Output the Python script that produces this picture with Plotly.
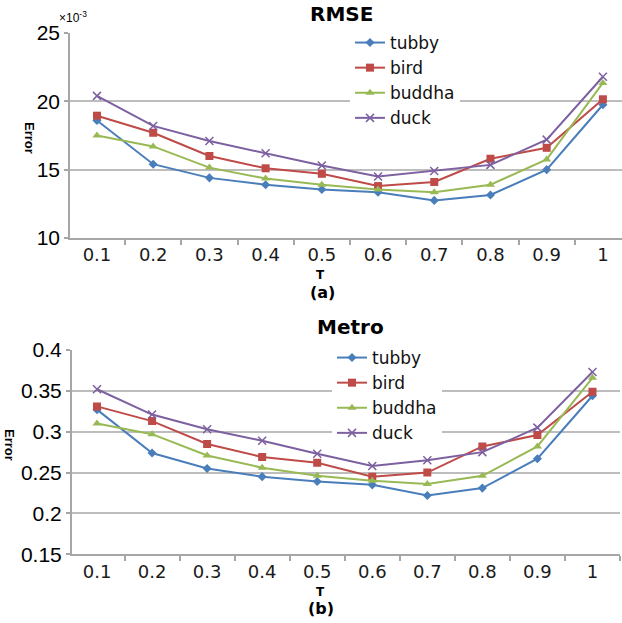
import plotly.graph_objects as go

T = ["0.1", "0.2", "0.3", "0.4", "0.5", "0.6", "0.7", "0.8", "0.9", "1"]
series = ["tubby", "bird", "buddha", "duck"]

# RMSE values (x10^-3)
rmse_tubby = [18.6, 15.4, 14.4, 13.9, 13.55, 13.35, 12.75, 13.15, 15.0, 19.75]
rmse_bird = [18.95, 17.7, 16.0, 15.1, 14.7, 13.8, 14.1, 15.8, 16.6, 20.15]
rmse_buddha = [17.5, 16.7, 15.15, 14.35, 13.9, 13.55, 13.35, 13.9, 15.75, 21.35]
rmse_duck = [20.4, 18.2, 17.1, 16.2, 15.3, 14.5, 14.9, 15.35, 17.2, 21.8]

# Metro values
metro_tubby = [0.327, 0.274, 0.255, 0.245, 0.239, 0.235, 0.222, 0.231, 0.267, 0.344]
metro_bird = [0.331, 0.313, 0.285, 0.269, 0.262, 0.245, 0.250, 0.282, 0.296, 0.349]
metro_buddha = [0.310, 0.297, 0.271, 0.256, 0.246, 0.240, 0.236, 0.246, 0.282, 0.366]
metro_duck = [0.352, 0.321, 0.303, 0.289, 0.273, 0.258, 0.265, 0.275, 0.305, 0.373]

rmse_ticks = [10, 15, 20, 25]
rmse_ticktext = ["10", "15", "20", "25"]
metro_ticks = [0.15, 0.2, 0.25, 0.3, 0.35, 0.4]
metro_ticktext = ["0.15", "0.2", "0.25", "0.3", "0.35", "0.4"]

colors = ["#4A7EBB", "#BE4B48", "#98B954", "#7D60A0"]
symbols = ["diamond", "square", "triangle-up", "x-thin"]
sizes = [7, 8, 8, 8]

W, H = 622, 623

def px_x(x):
    return x / W

def px_y(y):
    return 1 - y / H

fig = go.Figure()

rmse = [rmse_tubby, rmse_bird, rmse_buddha, rmse_duck]
metro = [metro_tubby, metro_bird, metro_buddha, metro_duck]

for i, name in enumerate(series):
    mk = dict(symbol=symbols[i], size=sizes[i], color=colors[i])
    if symbols[i] == "x-thin":
        mk["line"] = dict(color=colors[i], width=1.5)
    fig.add_trace(go.Scatter(x=T, y=rmse[i], name=name, mode="lines+markers",
                             line=dict(color=colors[i], width=2), marker=mk,
                             xaxis="x", yaxis="y", legend="legend"))
for i, name in enumerate(series):
    mk = dict(symbol=symbols[i], size=sizes[i], color=colors[i])
    if symbols[i] == "x-thin":
        mk["line"] = dict(color=colors[i], width=1.5)
    fig.add_trace(go.Scatter(x=T, y=metro[i], name=name, mode="lines+markers",
                             line=dict(color=colors[i], width=2), marker=mk,
                             xaxis="x2", yaxis="y2", legend="legend2"))

axis_col = "#A6A6A6"
grid_col = "#BDBDBD"
xfont = dict(family="DejaVu Sans", size=18, color="#1a1a1a")
yfont = dict(family="Liberation Sans", size=21, color="#000000")

xcommon = dict(type="category", showline=True, linecolor=axis_col, linewidth=1.5,
               ticks="outside", ticklen=5, tickcolor=axis_col, tickwidth=1.5,
               tickson="boundaries", showgrid=False, tickfont=xfont, zeroline=False,
               automargin=False)
ycommon = dict(showline=True, linecolor=axis_col, linewidth=1.5, ticks="outside",
               ticklen=4, tickcolor=axis_col, tickwidth=1.5, showgrid=True,
               gridcolor=grid_col, gridwidth=1.5, tickfont=yfont, zeroline=False,
               automargin=False)

legfont = dict(family="DejaVu Sans", size=17, color="#111")

fig.update_layout(
    template="none",
    width=W, height=H,
    margin=dict(l=0, r=0, t=0, b=0, pad=0),
    paper_bgcolor="white", plot_bgcolor="white",
    showlegend=True,
    xaxis=dict(xcommon, domain=[px_x(70), 1.0], range=[-0.48, 9.34], anchor="y"),
    yaxis=dict(ycommon, domain=[px_y(238), px_y(33)], range=[10, 25],
               tickvals=rmse_ticks, ticktext=rmse_ticktext, anchor="x"),
    xaxis2=dict(xcommon, domain=[px_x(71.7), px_x(620)], range=[-0.46, 9.5], anchor="y2"),
    yaxis2=dict(ycommon, domain=[px_y(554.3), px_y(350)], range=[0.15, 0.4],
                tickvals=metro_ticks, ticktext=metro_ticktext, anchor="x2"),
    legend=dict(x=px_x(350), y=px_y(25), xanchor="left", yanchor="top",
                bgcolor="white", font=legfont, tracegroupgap=0, itemsizing="trace",
                borderwidth=0),
    legend2=dict(x=px_x(332), y=px_y(340), xanchor="left", yanchor="top",
                 bgcolor="white", font=legfont, tracegroupgap=0, itemsizing="trace",
                 borderwidth=0),
)

bold = "DejaVu Sans"
ann = [
    dict(text="<b>RMSE</b>", x=px_x(341), y=px_y(14), size=20),
    dict(text="<b>Metro</b>", x=px_x(350), y=px_y(327), size=20),
    dict(text="<b>T</b>", x=px_x(320), y=px_y(275), size=12),
    dict(text="<b>(a)</b>", x=px_x(322), y=px_y(292), size=16),
    dict(text="<b>T</b>", x=px_x(320), y=px_y(592), size=12),
    dict(text="<b>(b)</b>", x=px_x(321), y=px_y(608), size=16),
]
for a in ann:
    fig.add_annotation(text=a["text"], x=a["x"], y=a["y"], xref="paper", yref="paper",
                       showarrow=False, xanchor="center", yanchor="middle",
                       font=dict(family=bold, size=a["size"], color="black"))

fig.add_annotation(text="×10<sup>-3</sup>", x=px_x(57), y=px_y(17), xref="paper", yref="paper",
                   showarrow=False, xanchor="left", yanchor="middle",
                   font=dict(family="Liberation Sans", size=12, color="black"))
fig.add_annotation(text="<b>Error</b>", x=px_x(30), y=px_y(138), xref="paper", yref="paper",
                   showarrow=False, textangle=90, xanchor="center", yanchor="middle",
                   font=dict(family="Liberation Sans", size=13, color="black"))
fig.add_annotation(text="<b>Error</b>", x=px_x(10), y=px_y(445), xref="paper", yref="paper",
                   showarrow=False, textangle=90, xanchor="center", yanchor="middle",
                   font=dict(family="Liberation Sans", size=13, color="black"))

fig.write_html("out.html", config={"displayModeBar": False})

# remove default page margin so the figure sits at the window's top-left corner
with open("out.html", "r", encoding="utf-8") as f:
    html = f.read()
html = html.replace("<head>", "<head><style>html,body{margin:0;padding:0;overflow:hidden}</style>", 1)
with open("out.html", "w", encoding="utf-8") as f:
    f.write(html)
